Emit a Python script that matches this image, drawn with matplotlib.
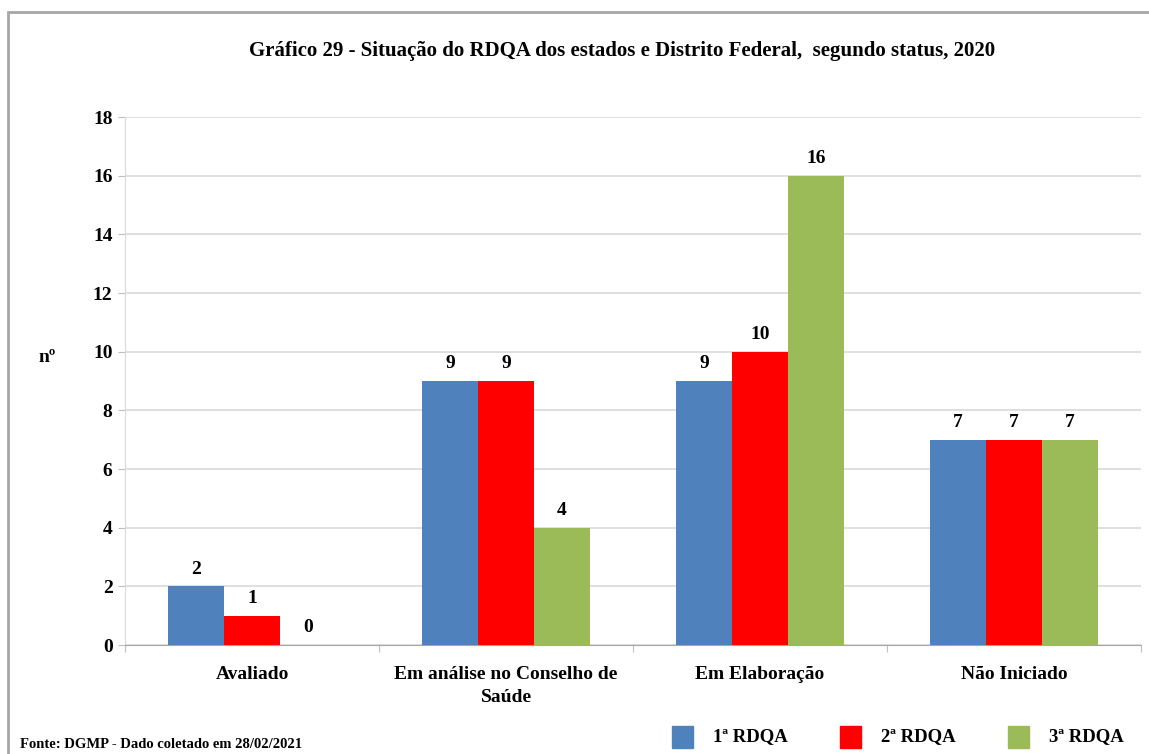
import numpy as np
import matplotlib.pyplot as plt
from matplotlib.patches import Rectangle

# data
categories = ['Avaliado', 'Em análise no Conselho de\nSaúde', 'Em Elaboração', 'Não Iniciado']
series_names = ['1ª RDQA', '2ª RDQA', '3ª RDQA']
rdqa1 = [2, 9, 9, 7]
rdqa2 = [1, 9, 10, 7]
rdqa3 = [0, 4, 16, 7]
colors = ['#4F81BD', '#FF0000', '#9BBB59']

plt.rcParams['font.family'] = ['Liberation Serif', 'DejaVu Serif']
plt.rcParams['font.weight'] = 'bold'

fig = plt.figure(figsize=(11.49, 7.54), dpi=100)
ax = fig.add_axes([125 / 1149, 1 - 645 / 754, 1016 / 1149, 528 / 754])

x = np.arange(len(categories))
w = 56 / 254
for i, (vals, c) in enumerate(zip([rdqa1, rdqa2, rdqa3], colors)):
    pos = x + (i - 1) * w
    ax.bar(pos, vals, width=w, color=c, label=series_names[i], zorder=3)
    for p, v in zip(pos, vals):
        ax.text(p, v + 0.3, str(v), ha='center', va='bottom', fontsize=14, fontweight='bold')

ax.set_xlim(-0.5, len(categories) - 0.5)
ax.set_ylim(0, 18)
ax.set_yticks(range(0, 19, 2))
ax.tick_params(axis='y', labelsize=14, length=5, color='#BFBFBF', pad=4)
ax.yaxis.grid(True, color='#D9D9D9', linewidth=1.2, zorder=0)

# category labels and boundary ticks
ax.set_xticks(np.arange(-0.5, len(categories)), minor=False)
ax.set_xticklabels([])
ax.tick_params(axis='x', length=5, color='#BFBFBF')
ax.set_xticks(x, minor=True)
ax.set_xticklabels(categories, minor=True, fontsize=14, fontweight='bold', linespacing=1.45)
ax.tick_params(axis='x', which='minor', length=0, pad=15)

for s in ['top', 'right']:
    ax.spines[s].set_visible(False)
ax.spines['left'].set_color('#D9D9D9')
ax.spines['bottom'].set_color('#A6A6A6')

fig.text(47 / 1149, 1 - 357 / 754, 'nº', fontsize=14, fontweight='bold', ha='center', va='center')
fig.text(622 / 1149, 1 - 51 / 754,
         'Gráfico 29 - Situação do RDQA dos estados e Distrito Federal,  segundo status, 2020',
         fontsize=15, fontweight='bold', ha='center', va='center')
fig.text(20 / 1149, 1 - 745 / 754, 'Fonte: DGMP - Dado coletado em 28/02/2021',
         fontsize=10.5, fontweight='bold', ha='left', va='center')

# legend
for i, name in enumerate(series_names):
    lx = 672 + i * 168
    fig.patches.append(Rectangle((lx / 1149, 1 - 748 / 754), 21 / 1149, 22 / 754,
                                 transform=fig.transFigure, color=colors[i]))
    fig.text((lx + 41) / 1149, 1 - 737 / 754, name, fontsize=13.5, fontweight='bold',
             ha='left', va='center')

# outer frame
fig.patches.append(Rectangle((8 / 1149, -0.01), 1.1, 1 - 12 / 754 + 0.01,
                             transform=fig.transFigure, fill=False, edgecolor='#A6A6A6',
                             linewidth=2))

fig.savefig('out.png', dpi=100)
